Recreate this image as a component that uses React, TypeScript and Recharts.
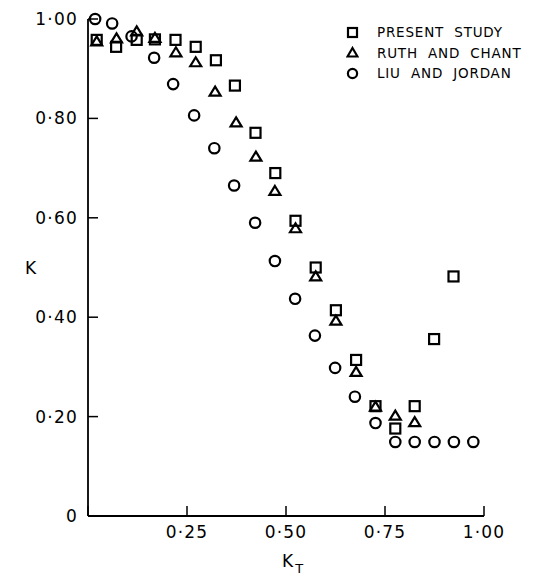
import { ScatterChart, Scatter, XAxis, YAxis } from "recharts"

const FONT = "'DejaVu Sans', Verdana, sans-serif"

// x = K_T, y = K
const ktPresent = [0.022, 0.071, 0.123, 0.169, 0.221, 0.272, 0.323, 0.371, 0.423, 0.473, 0.524, 0.575, 0.626, 0.677, 0.726, 0.776, 0.825, 0.874, 0.923]
const kPresent = [0.958, 0.944, 0.958, 0.959, 0.958, 0.944, 0.917, 0.866, 0.771, 0.690, 0.594, 0.500, 0.414, 0.314, 0.221, 0.176, 0.221, 0.356, 0.482]

const ktRuth = [0.022, 0.072, 0.123, 0.169, 0.222, 0.272, 0.321, 0.374, 0.424, 0.472, 0.524, 0.575, 0.626, 0.677, 0.726, 0.776, 0.825]
const kRuth = [0.955, 0.961, 0.975, 0.962, 0.933, 0.913, 0.854, 0.792, 0.723, 0.654, 0.579, 0.482, 0.393, 0.290, 0.220, 0.202, 0.189]

const ktLiu = [0.018, 0.061, 0.110, 0.167, 0.215, 0.268, 0.319, 0.369, 0.422, 0.472, 0.523, 0.573, 0.624, 0.674, 0.726, 0.776, 0.825, 0.875, 0.924, 0.973]
const kLiu = [1.0, 0.991, 0.965, 0.922, 0.869, 0.806, 0.740, 0.665, 0.590, 0.513, 0.437, 0.363, 0.298, 0.240, 0.187, 0.149, 0.149, 0.149, 0.149, 0.149]

const xTicks = [0, 0.25, 0.5, 0.75, 1]
const yTicks = [0, 0.2, 0.4, 0.6, 0.8, 1]

const legendNames = ["PRESENT STUDY", "RUTH AND CHANT", "LIU AND JORDAN"]

const pts = (xs: number[], ys: number[]) => xs.map((x, i) => ({ kt: x, k: ys[i] }))

const fmt = (v: number) => (v === 0 ? "0" : v.toFixed(2).replace(".", "·"))

const SquareMark = ({ cx, cy }: any) => (
  <rect x={cx - 5} y={cy - 5} width={10} height={10} fill="none" stroke="#000" strokeWidth={2.2} />
)
const TriangleMark = ({ cx, cy }: any) => (
  <path d={`M${cx},${cy - 5}L${cx + 5.5},${cy + 4}L${cx - 5.5},${cy + 4}Z`} fill="none" stroke="#000" strokeWidth={2.2} />
)
const CircleMark = ({ cx, cy }: any) => (
  <circle cx={cx} cy={cy} r={5.2} fill="none" stroke="#000" strokeWidth={2.2} />
)

const legendIcons = [
  <rect key="s" x={2} y={2} width={9} height={9} fill="none" stroke="#000" strokeWidth={2.2} />,
  <path key="t" d="M6.5,2L11.5,10.5L1.5,10.5Z" fill="none" stroke="#000" strokeWidth={2.2} />,
  <circle key="c" cx={6.5} cy={6.5} r={4.6} fill="none" stroke="#000" strokeWidth={2.2} />,
]

const XLabel = ({ viewBox }: any) => {
  const cx = viewBox.x + viewBox.width / 2
  return (
    <text x={cx - 4} y={567} fontFamily={FONT} fontSize={17} fill="#000">
      K
      <tspan fontSize={13} dy={6} dx={2}>T</tspan>
    </text>
  )
}

export default function App() {
  return (
    <div style={{ position: "absolute", left: 0, top: 0, width: 540, height: 577, background: "#fff" }}>
      <ScatterChart width={540} height={577} margin={{ top: 19, right: 56, bottom: 21, left: 28 }}>
        <XAxis
          type="number"
          dataKey="kt"
          domain={[0, 1]}
          ticks={xTicks}
          tickFormatter={(v: number) => (v === 0 ? "" : fmt(v))}
          height={40}
          tickSize={-10}
          tickMargin={20}
          axisLine={{ stroke: "#000", strokeWidth: 1.8 }}
          tickLine={{ stroke: "#000", strokeWidth: 1.5 }}
          tick={{ fontFamily: FONT, fontSize: 17, fill: "#000", letterSpacing: 1.2 }}
          label={{ content: XLabel }}
        />
        <YAxis
          type="number"
          dataKey="k"
          domain={[0, 1]}
          ticks={yTicks}
          tickFormatter={fmt}
          width={60}
          tickSize={-10}
          tickMargin={20}
          axisLine={{ stroke: "#000", strokeWidth: 1.8 }}
          tickLine={{ stroke: "#000", strokeWidth: 1.5 }}
          tick={{ fontFamily: FONT, fontSize: 17, fill: "#000", letterSpacing: 1.2 }}
          label={{ value: "K", position: "insideLeft", offset: -3, fontFamily: FONT, fontSize: 17, fill: "#000" }}
        />
        <Scatter name={legendNames[2]} data={pts(ktLiu, kLiu)} shape={CircleMark} isAnimationActive={false} />
        <Scatter name={legendNames[1]} data={pts(ktRuth, kRuth)} shape={TriangleMark} isAnimationActive={false} />
        <Scatter name={legendNames[0]} data={pts(ktPresent, kPresent)} shape={SquareMark} isAnimationActive={false} />
      </ScatterChart>
      <div style={{ position: "absolute", left: 346, top: 22, fontFamily: FONT, fontSize: 13.5, letterSpacing: 0.8, color: "#000" }}>
        {legendNames.map((n, i) => (
          <div key={n} style={{ display: "flex", alignItems: "center", height: 20.5, whiteSpace: "pre" }}>
            <svg width={13} height={13} style={{ marginRight: 18 }}>{legendIcons[i]}</svg>
            {n.replace(/ /g, "  ")}
          </div>
        ))}
      </div>
    </div>
  )
}
